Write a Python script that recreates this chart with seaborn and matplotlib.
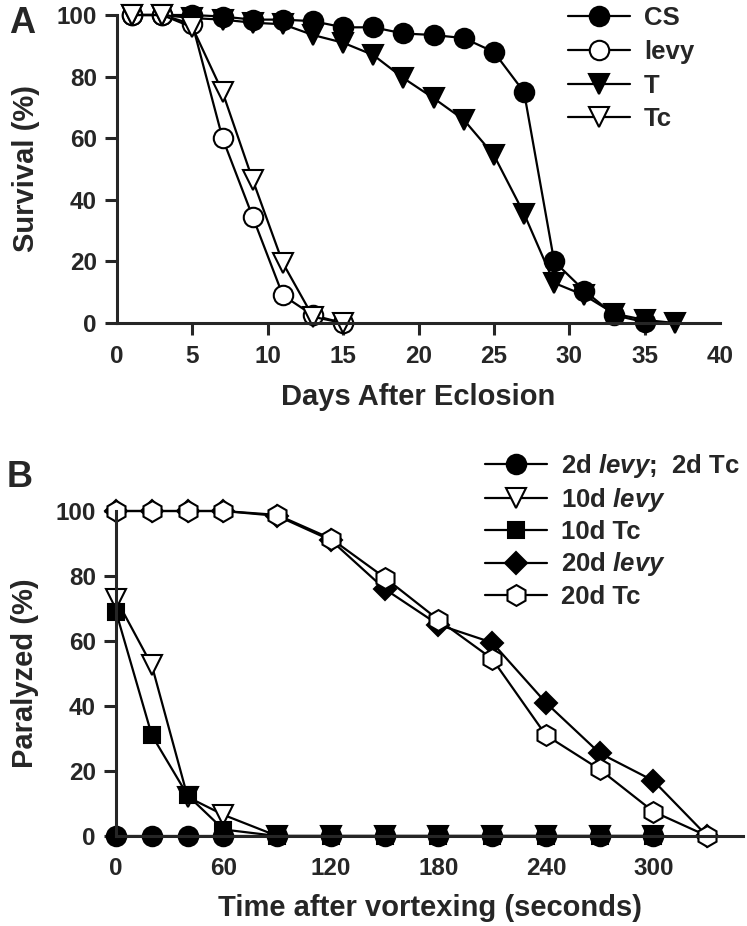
import numpy as np
import pandas as pd
import matplotlib
matplotlib.use('Agg')
import matplotlib.pyplot as plt
import seaborn as sns

# panel A: survival after eclosion
days = [1, 3, 5, 7, 9, 11, 13, 15, 17, 19, 21, 23, 25, 27, 29, 31, 33, 35, 37]
cs = [100, 100, 100, 99.5, 98.5, 98.5, 98, 96, 96, 94, 93.5, 92.5, 88, 75, 20, 10.5, 2.5, 0.3]
levy = [100, 100, 97, 60, 34.5, 9, 2.5, 0]
t_line = [100, 100, 99, 98.5, 97.5, 97, 93.5, 91, 87, 79.5, 73, 66, 54.5, 35.5, 13, 9, 3, 1, 0]
tc = [100, 100, 96, 75, 46.5, 19.5, 2, 0]

# panel B: paralysis after vortexing
secs = [0, 20, 40, 60, 90, 120, 150, 180, 210, 240, 270, 300, 330]
d2_both = [0, 0, 0, 0, 0, 0, 0, 0, 0, 0, 0, 0]
d10_levy = [73, 52.5, 12, 6.5, 0, 0, 0, 0, 0, 0, 0, 0]
d10_tc = [69, 31, 12.5, 2, 0, 0, 0, 0, 0, 0, 0, 0]
d20_levy = [100, 100, 100, 100, 98.5, 91, 76, 65, 59.5, 41, 25.5, 17, 0]
d20_tc = [100, 100, 100, 100, 98.8, 91.5, 79.5, 66.5, 54.5, 31, 20.5, 7.5, 0]

sns.set_style('ticks')
plt.rcParams['font.family'] = ['Liberation Sans', 'DejaVu Sans']
plt.rcParams['font.weight'] = 'bold'
plt.rcParams['mathtext.fontset'] = 'custom'
plt.rcParams['mathtext.it'] = 'Liberation Sans:italic:bold'
plt.rcParams['mathtext.rm'] = 'Liberation Sans:bold'
plt.rcParams['mathtext.bf'] = 'Liberation Sans:bold'

W, H = 747, 926
fig = plt.figure(figsize=(W / 100, H / 100), dpi=100)
ax_a = fig.add_axes([117 / W, 1 - 323 / H, (720 - 117) / W, (323 - 15) / H])
ax_b = fig.add_axes([116 / W, 1 - 836 / H, (743 - 116) / W, (836 - 511) / H])


def draw(ax, xs, ys, marker, face, label, ms):
    df = pd.DataFrame({'x': xs[:len(ys)], 'y': ys})
    sns.lineplot(data=df, x='x', y='y', ax=ax, color='black', lw=1.6,
                 marker=marker, ms=ms, markerfacecolor=face,
                 markeredgecolor='black', markeredgewidth=1.5,
                 label=label, clip_on=False)


draw(ax_a, days, cs, 'o', 'black', 'CS', 14)
draw(ax_a, days, levy, 'o', 'white', 'levy', 14)
draw(ax_a, days, t_line, 'v', 'black', 'T', 14)
draw(ax_a, days, tc, 'v', 'white', 'Tc', 14)

draw(ax_b, secs, d2_both, 'o', 'black', '2d $levy$;  2d Tc', 14)
draw(ax_b, secs, d10_levy, 'v', 'white', '10d $levy$', 14)
draw(ax_b, secs, d10_tc, 's', 'black', '10d Tc', 12)
draw(ax_b, secs, d20_levy, 'D', 'black', '20d $levy$', 11)
draw(ax_b, secs, d20_tc, 'h', 'white', '20d Tc', 15)

for ax in (ax_a, ax_b):
    sns.despine(ax=ax)
    for side in ('left', 'bottom'):
        ax.spines[side].set_linewidth(2.2)
    ax.set_ylim(0, 100)
    ax.set_yticks([0, 20, 40, 60, 80, 100])
    ax.tick_params(axis='y', length=8.5, width=2.2, pad=6, labelsize=17.5)

ax_a.set_xlim(0, 40)
ax_a.set_xticks(range(0, 41, 5))
ax_a.tick_params(axis='x', length=8.5, width=2.2, pad=7, labelsize=17.5)
ticks = ax_a.xaxis.get_major_ticks()
ticks[0].tick1line.set_visible(False)
ticks[-1].tick1line.set_visible(False)

ax_b.set_xlim(0, 350)
ax_b.set_xticks([0, 60, 120, 180, 240, 300])
ax_b.tick_params(axis='x', length=0, pad=15, labelsize=17.5)

ax_a.set_xlabel('Days After Eclosion', fontsize=21, fontweight='bold', labelpad=11)
ax_a.set_ylabel('Survival (%)', fontsize=21, fontweight='bold', labelpad=12)
ax_b.set_xlabel('Time after vortexing (seconds)', fontsize=21, fontweight='bold', labelpad=10)
ax_b.set_ylabel('Paralyzed (%)', fontsize=21, fontweight='bold', labelpad=12)

leg_a = ax_a.legend(loc='upper left', bbox_to_anchor=(568 / W, 1 - 6 / H),
                    bbox_transform=fig.transFigure, frameon=False, fontsize=18.5,
                    handlelength=2.4, handletextpad=0.55, labelspacing=0.38,
                    borderpad=0, borderaxespad=0)
leg_b = ax_b.legend(loc='upper left', bbox_to_anchor=(485 / W, 1 - 452 / H),
                    bbox_transform=fig.transFigure, frameon=False, fontsize=18.5,
                    handlelength=2.4, handletextpad=0.55, labelspacing=0.24,
                    borderpad=0, borderaxespad=0)

fig.text(9 / W, 1 - 33 / H, 'A', fontsize=26, fontweight='bold')
fig.text(7 / W, 1 - 487 / H, 'B', fontsize=26, fontweight='bold')

fig.savefig('out.png', dpi=100)
